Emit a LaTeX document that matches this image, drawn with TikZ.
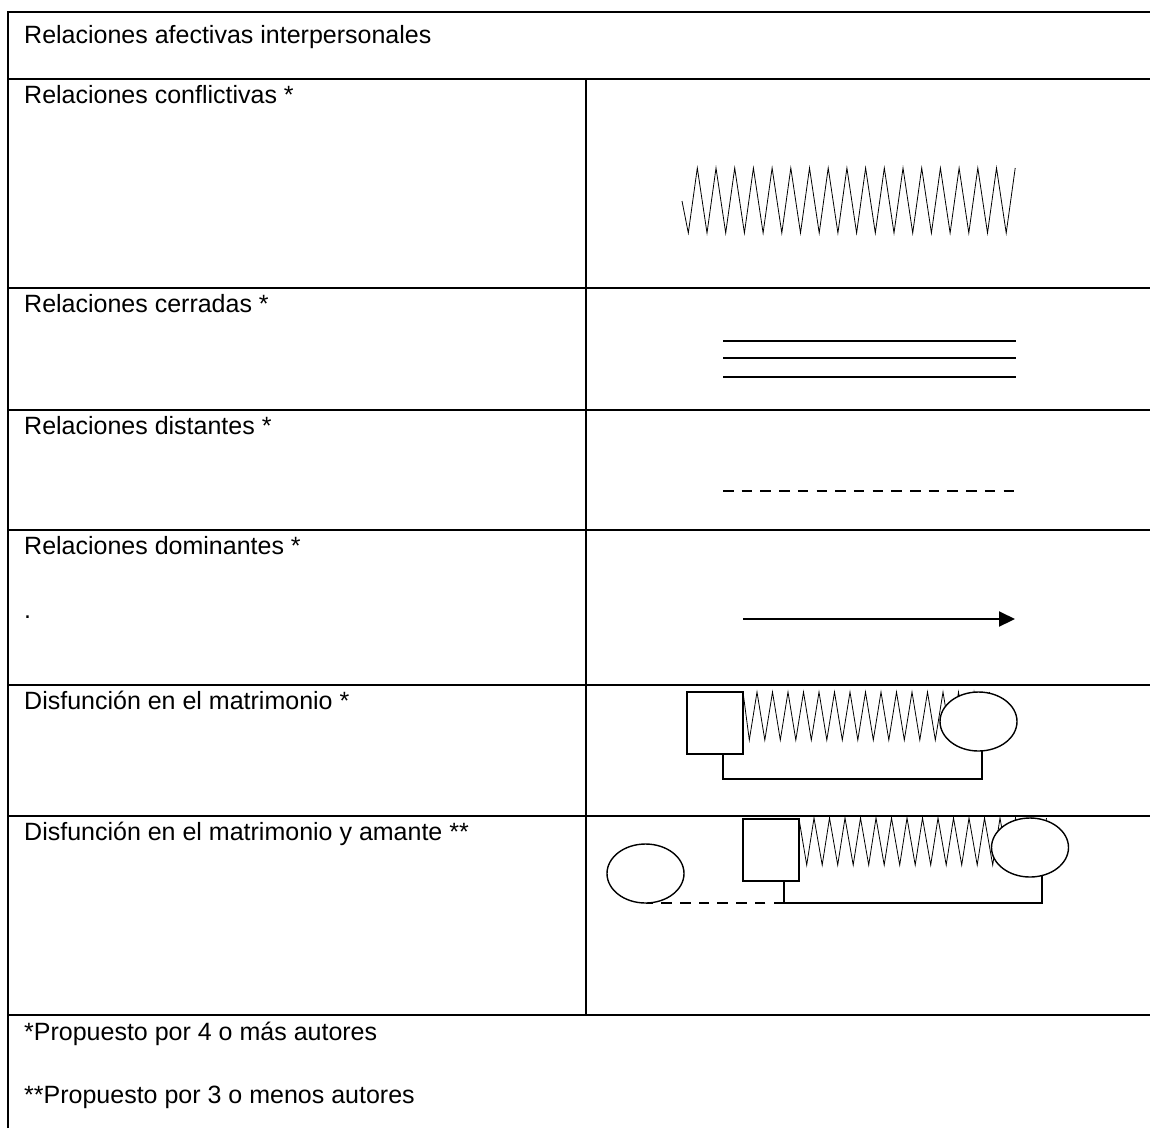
\documentclass[tikz,border=0pt]{standalone}
\usepackage{fontspec}
\setmainfont{Liberation Sans}
\usetikzlibrary{shapes.geometric,arrows.meta}
\pgfdeclarelayer{bg}
\pgfsetlayers{bg,main}
\begin{document}
\begin{tikzpicture}[x=1pt,y=-1pt,
  tableline/.style={line width=2pt},
  lbl/.style={anchor=base west,inner sep=0pt,font=\fontsize{25}{30}\selectfont},
  zz/.style={line width=0.8pt,line join=miter},
  box/.style={draw,line width=1.4pt,minimum width=56pt,minimum height=62pt,inner sep=0pt,outer sep=0pt,fill=white},
  oval/.style={draw,ellipse,line width=1.4pt,minimum width=77pt,minimum height=59pt,inner sep=0pt,outer sep=0pt,fill=white},
  link/.style={line width=1.4pt},
  ]
\useasboundingbox (0,0) rectangle (1150,1128);
% table
\draw[tableline] (8,1128) -- (8,12) -- (1150,12);
\foreach \y in {79,288,410,530,685,816,1015} \draw[tableline] (8,\y) -- (1150,\y);
\draw[tableline] (586,79) -- (586,1015);
% texts
\node[lbl] (t0) at (24,43) {Relaciones afectivas interpersonales};
\node[lbl] (t1) at (24,103) {Relaciones conflictivas *};
\node[lbl] (t2) at (24,312) {Relaciones cerradas *};
\node[lbl] (t3) at (24,434) {Relaciones distantes *};
\node[lbl] (t4) at (24,554) {Relaciones dominantes *};
\node[lbl] (t4b) at (24,618) {.};
\node[lbl] (t5) at (24,709) {Disfunción en el matrimonio *};
\node[lbl] (t6) at (24,840) {Disfunción en el matrimonio y amante **};
\node[lbl] (f1) at (24,1040) {*Propuesto por 4 o más autores};
\node[lbl] (f2) at (24,1103) {**Propuesto por 3 o menos autores};
% conflictivas
\draw[zz] (682,201) \foreach \k in {0,...,17}{ -- ({688.3+18.7*\k},233) -- ({697.3+18.7*\k},168)};
% cerradas
\foreach \y in {341,358,377} \draw[line width=1.6pt] (723,\y) -- (1016,\y);
% distantes
\draw[line width=2.6pt,dash pattern=on 10.5pt off 8.2pt] (723,491) -- (1016,491);
% dominantes
\draw[line width=2pt,-{Triangle[length=16pt,width=15pt]}] (743,619) -- (1015,619);
% disfuncion
\node[box] (sq1) at (715,723) {};
\node[oval] (ov1) at (978.5,721.5) {};
\coordinate (d1) at (723,779);
\coordinate (r1) at (982,779);
% disfuncion y amante
\node[box] (sq2) at (771,850) {};
\node[oval] (ov2) at (1030,847.5) {};
\node[oval] (ov3) at (645.5,873.5) {};
\coordinate (d2) at (784,903);
\coordinate (r2) at (1042,903);
\begin{pgfonlayer}{bg}
\draw[zz] (sq1.north east) \foreach \k in {0,...,15}{ -- ({749.3+15.5*\k},740) -- ({757+15.5*\k},692)};
\draw[link] (d1 |- sq1.south) -- (d1) -- (r1) -- (r1 |- ov1.center);
\draw[zz] (sq2.north east) \foreach \k in {0,...,15}{ -- ({806.7+15.5*\k},865) -- ({814+15.5*\k},818)};
\draw[link] (d2 |- sq2.south) -- (d2) -- (r2) -- (r2 |- ov2.center);
\draw[link,dash pattern=on 10.5pt off 8.2pt] (d2) -- (ov3.south);
\end{pgfonlayer}
\end{tikzpicture}
\end{document}
